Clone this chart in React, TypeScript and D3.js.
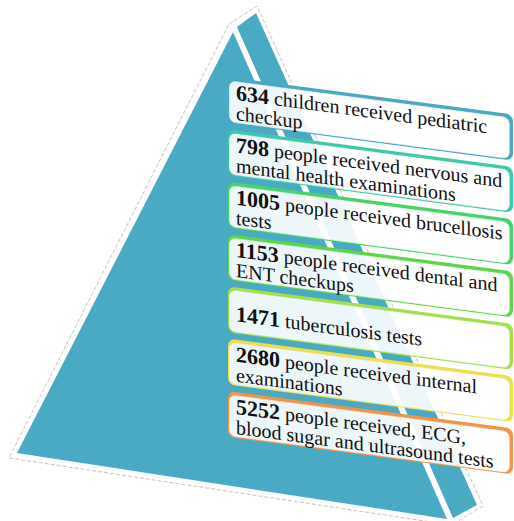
import React from "react";
import * as d3 from "d3";

const W = 514;
const H = 521;

const values = [634, 798, 1005, 1153, 1471, 2680, 5252];
const firstLines = [
  "children received pediatric",
  "people received nervous and",
  "people received brucellosis",
  "people received dental and",
  "tuberculosis tests",
  "people received internal",
  "people received, ECG,",
];
const secondLines = [
  "checkup",
  "mental health examinations",
  "tests",
  "ENT checkups",
  "",
  "examinations",
  "blood sugar and ultrasound tests",
];
const borderColors = ["#4aa8c4", "#3ecaa8", "#46d468", "#5cd646", "#a4e04c", "#ecde50", "#f29448"];

const PYR = "#4aaac4";
const FONT = "'Liberation Serif', 'DejaVu Serif', serif";

// pyramid geometry (decorative)
const hull: [number, number][] = [[229, 24], [257, 6], [483, 506], [451, 525], [9, 458]];
const leftFace: [number, number][] = [[233, 32], [17, 453], [447, 519]];
const rightFace: [number, number][] = [[237, 27], [256, 13], [477, 505], [453, 518]];

const BOX_X = 228;
const BOX_W = 285;
const SKEW = 7.5;

function rrect(x: number, y: number, w: number, h: number, r: number) {
  const p = d3.path();
  p.moveTo(x + r, y);
  p.lineTo(x + w - r, y);
  p.arcTo(x + w, y, x + w, y + r, r);
  p.lineTo(x + w, y + h - r);
  p.arcTo(x + w, y + h, x + w - r, y + h, r);
  p.lineTo(x + r, y + h);
  p.arcTo(x, y + h, x, y + h - r, r);
  p.lineTo(x, y + r);
  p.arcTo(x, y, x + r, y, r);
  p.closePath();
  return p.toString();
}

export default function App() {
  const idx = values.map((_, i) => i);
  const y = d3.scaleBand<number>().domain(idx).range([77, 437]).paddingInner(0.12).paddingOuter(0);
  const bh = y.bandwidth();
  const line = d3.line();
  const poly = (p: [number, number][]) => line(p) + "Z";
  const inner = { x: 1.5, y: 3.8, w: BOX_W - 5.3, h: bh - 5.3 };

  return (
    <svg width={W} height={H} style={{ position: "absolute", left: 0, top: 0, fontFamily: FONT }}>
      <rect width={W} height={H} fill="#fff" />
      <path d={poly(hull)} fill="#fff" stroke="#c4c4c4" strokeWidth={1} strokeDasharray="4 2" />
      <path d={poly(leftFace)} fill={PYR} />
      <path d={poly(rightFace)} fill={PYR} />
      {idx.map((i) => {
        const two = secondLines[i] !== "";
        const innerD = rrect(inner.x, inner.y, inner.w, inner.h, 6);
        return (
          <g key={i} transform={`translate(${BOX_X},${y(i)}) skewY(${SKEW})`}>
            <path d={innerD} fill="#fff" fillOpacity={0.9} />
            <path d={rrect(0, 0, BOX_W, bh, 7) + innerD} fill={borderColors[i]} fillRule="evenodd" />
            <path d={innerD} fill="none" stroke="#fff" strokeOpacity={0.8} strokeWidth={0.8} />
            <text x={8} y={two ? 22 : 34} fontSize={20} fill="#111" style={{ fontFamily: FONT }}>
              <tspan fontWeight="bold" fontSize={22}>{values[i]}</tspan>
              <tspan> {firstLines[i]}</tspan>
            </text>
            {two && (
              <text x={8} y={42} fontSize={20} fill="#111" style={{ fontFamily: FONT }}>
                {secondLines[i]}
              </text>
            )}
          </g>
        );
      })}
    </svg>
  );
}
